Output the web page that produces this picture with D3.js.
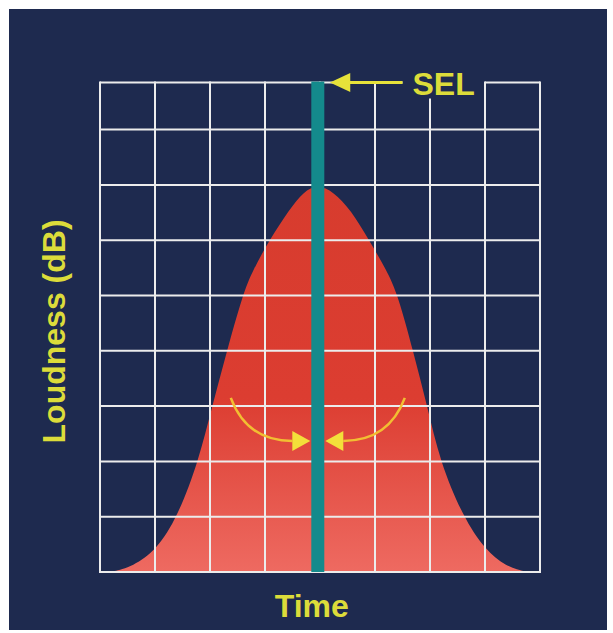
<!DOCTYPE html>
<html lang="en">
<head>
    <meta charset="UTF-8">
    <title>SEL - Loudness over Time</title>
    <script src="https://d3js.org/d3.v7.min.js"></script>
    <style>
        body { margin: 0; background: #fff; }
        .label { font-family: "Liberation Sans", Arial, sans-serif; font-weight: bold; fill: #dcdc3a; }
        .grid line { stroke: #ececec; stroke-width: 2px; }
    </style>
</head>
<body>
    <svg id="chart" width="613" height="633"></svg>

    <script>
        // Tick positions (time and loudness units)
        const timeTicks = [0, 1, 2, 3, 4, 5, 6, 7, 8];
        const loudTicks = [0, 1, 2, 3, 4, 5, 6, 7, 8];
        const loudTop = 8.85;

        // Loudness curve
        const curveTime = [0.2, 0.6, 1.03, 1.41, 1.79, 2.04, 2.31, 2.59, 2.78, 3.08, 3.44, 3.7, 3.96,
                           4.24, 4.56, 4.89, 5.21, 5.42, 5.69, 5.95, 6.18, 6.6, 7.0, 7.38, 7.76];
        const curveLoud = [0, 0.1, 0.4, 1.0, 2.0, 3.0, 4.0, 5.0, 5.46, 6.0, 6.55, 6.88, 7.0,
                           6.88, 6.55, 6.0, 5.46, 5.0, 4.0, 3.0, 2.0, 1.0, 0.4, 0.1, 0];

        // SEL marker and annotation positions (data units)
        const selTime = 3.96;
        const selArrow = { tip: 4.18, base: 4.55, end: 5.5 };
        const topSegments = [[0, 5.5], [7, 8]];   // top border pieces that are drawn
        const curvedArrowLoud = 2.37;

        const svg = d3.select("#chart");

        const x = d3.scaleLinear().domain([0, 8]).range([100, 540]);
        const y = d3.scaleLinear().domain([0, 8]).range([572, 129.6]);

        // Panel background
        svg.append("rect")
            .attr("x", 9).attr("y", 9)
            .attr("width", 598).attr("height", 621)
            .attr("fill", "#1e2a4f");

        // Gradient for the loudness area
        const defs = svg.append("defs");
        const grad = defs.append("linearGradient")
            .attr("id", "redFill")
            .attr("gradientUnits", "userSpaceOnUse")
            .attr("x1", 0).attr("x2", 0)
            .attr("y1", y(7)).attr("y2", y(0));
        grad.append("stop").attr("offset", "0%").attr("stop-color", "#d73c2e");
        grad.append("stop").attr("offset", "55%").attr("stop-color", "#dc3d31");
        grad.append("stop").attr("offset", "100%").attr("stop-color", "#ee6a61");

        const points = curveTime.map((t, i) => [t, curveLoud[i]]);

        const area = d3.area()
            .x(d => x(d[0]))
            .y0(y(0))
            .y1(d => y(d[1]))
            .curve(d3.curveBasis);

        svg.append("path")
            .datum(points)
            .attr("d", area)
            .attr("fill", "url(#redFill)");

        // Grid
        const grid = svg.append("g").attr("class", "grid");

        grid.selectAll(".h")
            .data(loudTicks)
            .enter()
            .append("line")
            .attr("x1", x(0)).attr("x2", x(8))
            .attr("y1", d => y(d)).attr("y2", d => y(d));

        grid.selectAll(".top")
            .data(topSegments)
            .enter()
            .append("line")
            .attr("x1", d => x(d[0])).attr("x2", d => x(d[1]))
            .attr("y1", y(loudTop)).attr("y2", y(loudTop));

        grid.selectAll(".v")
            .data(timeTicks)
            .enter()
            .append("line")
            .attr("x1", d => x(d)).attr("x2", d => x(d))
            .attr("y1", y(0) + 1)
            .attr("y2", d => d === 6 ? y(loudTop) + 16 : y(loudTop) - 1);

        // SEL bar
        svg.append("rect")
            .attr("x", x(selTime) - 6.5)
            .attr("y", y(loudTop) - 1)
            .attr("width", 13)
            .attr("height", y(0) - y(loudTop) + 1)
            .attr("fill", "#148a8c");

        // SEL arrow
        const yTop = y(loudTop);
        svg.append("line")
            .attr("x1", x(selArrow.base) - 2).attr("x2", x(selArrow.end))
            .attr("y1", yTop).attr("y2", yTop)
            .attr("stroke", "#e6e23a").attr("stroke-width", 3);
        svg.append("path")
            .attr("d", `M${x(selArrow.tip)},${yTop} L${x(selArrow.base)},${yTop - 9.5} L${x(selArrow.base)},${yTop + 9.5} Z`)
            .attr("fill", "#e6e23a");

        svg.append("text")
            .attr("class", "label")
            .attr("x", x(selArrow.end) + 10)
            .attr("y", yTop + 12)
            .attr("font-size", 32)
            .attr("fill", "#e2e03c")
            .text("SEL");

        // Curved arrows pointing at the SEL bar
        const ay = y(curvedArrowLoud);
        const startY = ay - 43;
        [-1, 1].forEach(side => {
            const cx = x(selTime);
            const tipX = cx + side * 7.5;
            const baseX = tipX + side * 18;
            const startX = cx + side * 87;
            svg.append("path")
                .attr("d", `M${startX},${startY} Q${startX - side * 16},${ay} ${baseX},${ay}`)
                .attr("fill", "none")
                .attr("stroke", "#f2be32")
                .attr("stroke-width", 2.5);
            svg.append("path")
                .attr("d", `M${tipX},${ay} L${baseX},${ay - 10} L${baseX},${ay + 10} Z`)
                .attr("fill", "#f3df3a");
        });

        // Axis titles
        svg.append("text")
            .attr("class", "label")
            .attr("x", x(3.85))
            .attr("y", 617)
            .attr("text-anchor", "middle")
            .attr("font-size", 32)
            .text("Time");

        svg.append("text")
            .attr("class", "label")
            .attr("transform", `translate(65,${y(4.35)}) rotate(-90)`)
            .attr("text-anchor", "middle")
            .attr("font-size", 32)
            .text("Loudness (dB)");
    </script>
</body>
</html>
